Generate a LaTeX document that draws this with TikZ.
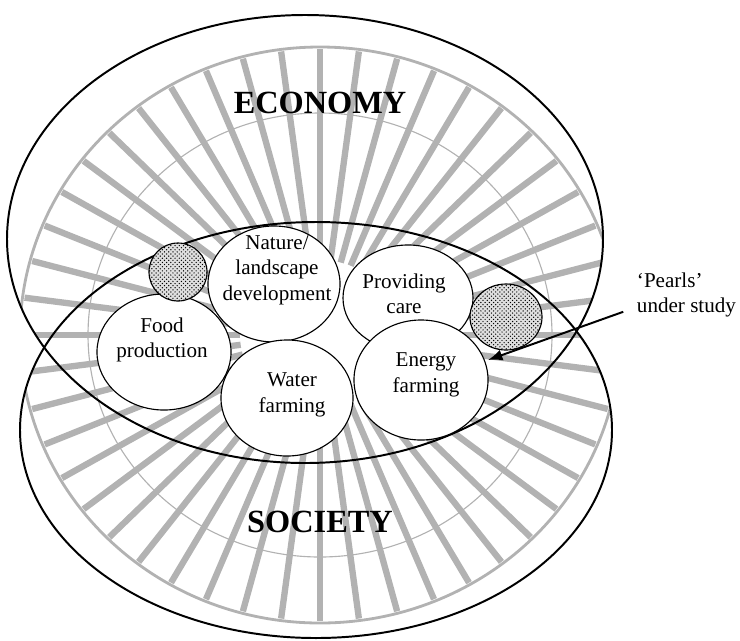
\documentclass[tikz,border=0pt]{standalone}
\usepackage{fontspec}
\setmainfont{Liberation Serif}
\usepackage{tikz}
\usetikzlibrary{arrows,arrows.meta,shapes.geometric,patterns,calc}
\tikzset{
    %Define standard arrow tip
    >={Latex[length=3.6mm,width=2.8mm]},
    %Define style for the two big spheres
    sphere/.style={
           draw=black,
           line width=1.4pt},
    %Define style for the activity circles
    activity/.style={
           ellipse,
           draw=black,
           fill=white,
           line width=0.8pt,
           inner sep=0pt},
    %Define style for the dotted pearls
    pearl/.style={
           ellipse,
           draw=black,
           line width=0.8pt,
           inner sep=0pt,
           preaction={fill=gray!25},
           pattern=crosshatch dots},
    activitytext/.style={
           align=center,
           font=\fontsize{15}{18}\selectfont},
    spherelabel/.style={
           font=\fontsize{23}{27}\selectfont\bfseries},
    %Define style for the shell ribs
    rib/.style={
           draw=gray!60,
           line width=4.5pt},
    % Define arrow style
    pil/.style={
           ->,
           line width=1.4pt}
}

\begin{document}
\begin{tikzpicture}[x=0.025cm, y=-0.025cm]
    \useasboundingbox (0,0) rectangle (740,640);

    % shell in the background
    \begin{scope}
        \clip (305,239) ellipse [x radius=298, y radius=224]
              (316,430) ellipse [x radius=296, y radius=208];
        \foreach \a in {0,7.5,...,352.5}
            \draw[rib] (320,335) +(\a:80 and 75) -- +(\a:298 and 286);
        \draw[draw=gray!60, line width=2pt] (320,335) ellipse [x radius=300, y radius=288];
        \draw[draw=gray!60, line width=0.8pt] (320,335) ellipse [x radius=232, y radius=222];
    \end{scope}

    % spheres
    \draw[sphere] (305,239) ellipse [x radius=298, y radius=224];
    \draw[sphere] (316,430) ellipse [x radius=296, y radius=208];
    \node[spherelabel] (economy) at (320,103) {ECONOMY};
    \node[spherelabel] (society) at (320,522) {SOCIETY};

    % activities
    \node[activity, minimum width=3.3cm, minimum height=2.9cm] (nature) at (274,284) {};
    \node[activity, minimum width=3.25cm, minimum height=2.65cm] (care) at (408,298) {};
    \node[activity, minimum width=3.35cm, minimum height=2.9cm] (food) at (164,352) {};
    \node[activity, minimum width=3.3cm, minimum height=2.9cm] (water) at (287,398) {};
    \node[activity, minimum width=3.35cm, minimum height=3.0cm] (energy) at (421,380) {};

    % pearls
    \node[pearl, minimum width=1.45cm, minimum height=1.45cm] (pearlA) at (178,272) {};
    \node[pearl, minimum width=1.8cm, minimum height=1.65cm] (pearlB) at (506,317) {};

    % texts
    \node[activitytext] (naturetxt) at (277,270) {Nature/\\landscape\\development};
    \node[activitytext] (caretxt) at (404,294) {Providing\\care};
    \node[activitytext] (foodtxt) at (162,340) {Food\\production};
    \node[activitytext] (watertxt) at (292,395) {Water\\farming};
    \node[activitytext] (energytxt) at (426,375) {Energy\\farming};
    \node[activitytext, align=left, anchor=west] (pearlstxt) at (632,295) {`Pearls'\\under study};

    % arrow
    \coordinate (target) at (488,360);
    \draw[pil] ([xshift=-0.22cm,yshift=-0.42cm]pearlstxt.west) -- (target);
\end{tikzpicture}
\end{document}
